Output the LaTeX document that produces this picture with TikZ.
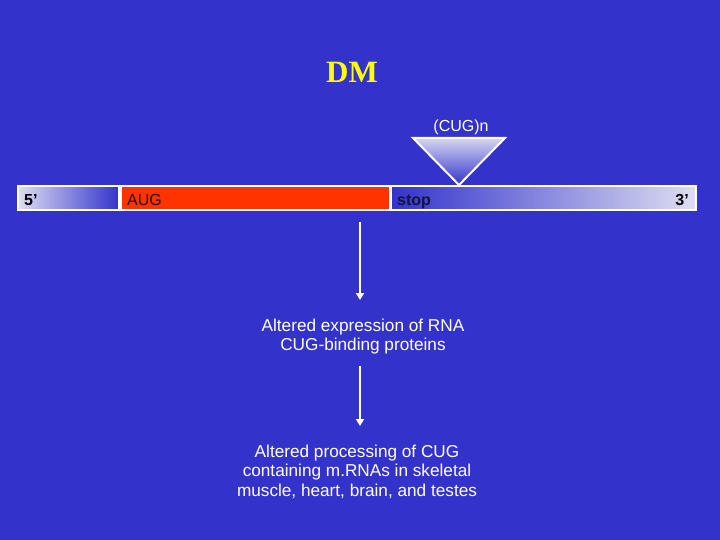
\documentclass[tikz,border=0pt]{standalone}
\usepackage{fontspec}
\setmainfont{Liberation Sans}
\newfontfamily\timesfont{Liberation Serif}
\usetikzlibrary{arrows.meta}
\definecolor{bgblue}{RGB}{51,51,204}
\definecolor{lightlav}{RGB}{222,222,242}
\definecolor{segred}{RGB}{255,51,0}
\definecolor{dmyellow}{RGB}{255,255,0}
\definecolor{augtext}{RGB}{45,5,0}
\definecolor{stoptext}{RGB}{20,20,60}
\tikzset{
  seg/.style={draw=white, line width=2pt},
  barlabel/.style={font=\fontsize{16}{18}\selectfont, text=black, inner sep=0pt},
  boldlabel/.style={barlabel, font=\bfseries\fontsize{16}{18}\selectfont},
  bodytext/.style={font=\fontsize{17.2}{19.5}\selectfont, text=white, align=center, inner sep=0pt},
  flowarrow/.style={draw=white, line width=1.8pt, -{Triangle[width=8pt,length=7pt]}}
}
\begin{document}
\begin{tikzpicture}[x=1pt,y=-1pt]
\fill[bgblue] (0,0) rectangle (720,540);
\useasboundingbox (0,0) rectangle (720,540);
% title
\node[font=\timesfont\bfseries\fontsize{31}{34}\selectfont, text=dmyellow] (title) at (352,72) {DM};
% segments
\shade[left color=lightlav, right color=bgblue] (18,186) rectangle (119,210);
\draw[seg] (18,186) rectangle (119,210);
\fill[segred] (121,186) rectangle (390,210);
\draw[seg] (121,186) rectangle (390,210);
\shade[left color=bgblue, right color=lightlav] (391,186) rectangle (696,210);
\draw[seg] (391,186) rectangle (696,210);
% insertion triangle
\shade[top color=lightlav!95!bgblue, bottom color=bgblue] (413,138) -- (505,138) -- (459,185) -- cycle;
\draw[seg, line join=miter] (413,138) -- (505,138) -- (459,185) -- cycle;
\node[font=\fontsize{16}{18}\selectfont, text=white, inner sep=0pt] (cug) at (461,127) {(CUG)n};
% bar labels
\node[boldlabel, anchor=base west] (five) at (24,206) {5’};
\node[barlabel, anchor=base west, text=augtext] (aug) at (127,206) {AUG};
\node[boldlabel, anchor=base west, text=stoptext] (stop) at (397,206) {stop};
\node[boldlabel, anchor=base east] (three) at (689,206) {3’};
% texts
\node[bodytext] (t1) at (363,336.5) {Altered expression of RNA\\CUG-binding proteins};
\node[bodytext] (t2) at (357,471.5) {Altered processing of CUG\\containing m.RNAs in skeletal\\muscle, heart, brain, and testes};
% arrows
\coordinate (a1s) at (360,222);
\coordinate (a1e) at (360,300);
\coordinate (a2s) at (360,366);
\coordinate (a2e) at (360,426);
\draw[flowarrow] (a1s) -- (a1e);
\draw[flowarrow] (a2s) -- (a2e);
\end{tikzpicture}
\end{document}
